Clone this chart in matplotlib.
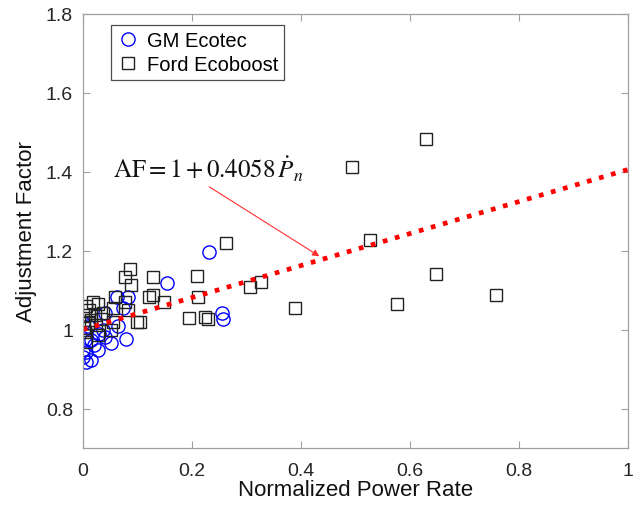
import numpy as np
import matplotlib
matplotlib.use("Agg")
from matplotlib import pyplot as plt

# GM Ecotec (circles)
gm_x = [0.231, 0.255, 0.257, 0.154, 0.083, 0.062, 0.073, 0.040, 0.079, 0.051,
        0.064, 0.037, 0.028, 0.015, 0.004, 0.006, 0.000, 0.006, 0.000, 0.015,
        0.040, 0.009, 0.020, 0.000, 0.030]
gm_y = [1.196, 1.043, 1.026, 1.117, 1.082, 1.084, 1.056, 1.043, 0.977, 0.967,
        1.008, 1.000, 0.949, 0.975, 0.974, 0.944, 0.931, 0.918, 0.949, 0.923,
        0.982, 1.008, 0.960, 1.018, 0.990]

# Ford Ecoboost (squares)
ford_x = [0.629, 0.494, 0.527, 0.262, 0.209, 0.211, 0.306, 0.327, 0.389, 0.576,
          0.648, 0.758, 0.195, 0.224, 0.229, 0.086, 0.077, 0.088, 0.128, 0.128,
          0.121, 0.149, 0.099, 0.077, 0.059, 0.055, 0.083, 0.018, 0.006, 0.028,
          0.004, 0.022, 0.037, 0.009, 0.024, 0.051, 0.004, 0.028, 0.006, 0.055,
          0.012, 0.015, 0.033, 0.003, 0.105]
ford_y = [1.482, 1.411, 1.227, 1.219, 1.135, 1.082, 1.107, 1.120, 1.054, 1.064,
          1.140, 1.089, 1.030, 1.033, 1.026, 1.153, 1.133, 1.112, 1.133, 1.089,
          1.082, 1.069, 1.020, 1.069, 1.082, 1.056, 1.051, 1.071, 1.059, 1.064,
          1.038, 1.038, 1.043, 1.018, 1.013, 1.000, 0.995, 0.987, 0.969, 1.020,
          1.050, 1.025, 1.028, 1.005, 1.020]

# fit AF = 1 + 0.4058 * Pn
slope = 0.4058
fit_x = np.array([0.0, 1.0])

plt.rcParams['font.family'] = ['Liberation Sans', 'DejaVu Sans']
plt.rcParams['mathtext.fontset'] = 'stix'

fig = plt.figure(figsize=(6.41, 5.06), dpi=100)
ax = fig.add_axes([0.129, 0.1126, 0.851, 0.8578])

ax.plot(gm_x, gm_y, 'o', mfc='none', mec='#0000ff', mew=1.0, ms=9.5, label='GM Ecotec')
ax.plot(ford_x, ford_y, 's', mfc='none', mec='#222222', mew=1.0, ms=8, label='Ford Ecoboost')
ax.plot(fit_x, 1 + slope * fit_x, ':', color='#ff0000', lw=3.4)

ax.annotate(r'$\mathrm{AF} = 1 + 0.4058\,\dot{P}_n$', xy=(0.434, 1.186), xytext=(0.055, 1.41),
            fontsize=18, va='center', ha='left', color='#111111',
            arrowprops=dict(arrowstyle='-|>', color='#ff3030', lw=0.8, mutation_scale=10,
                            shrinkA=2, shrinkB=0, relpos=(0.47, 0.0)))

ax.set_xlim(0, 1)
ax.set_ylim(0.7, 1.8)
ax.set_xticks([0, 0.2, 0.4, 0.6, 0.8, 1])
ax.set_xticklabels(['0', '0.2', '0.4', '0.6', '0.8', '1'])
ax.set_yticks([0.8, 1, 1.2, 1.4, 1.6, 1.8])
ax.set_yticklabels(['0.8', '1', '1.2', '1.4', '1.6', '1.8'])
ax.tick_params(direction='in', top=True, right=True, length=5, width=0.8,
               color='#a0a0a0', labelsize=14, labelcolor='#262626')
ax.tick_params(axis='y', pad=7)
ax.tick_params(axis='x', pad=10)
for s in ax.spines.values():
    s.set_color('#a0a0a0')
    s.set_linewidth(0.9)

ax.set_xlabel('Normalized Power Rate', fontsize=16, color='#111111', labelpad=0)
ax.set_ylabel('Adjustment Factor', fontsize=16, color='#111111', labelpad=6)

leg = ax.legend(loc='upper left', bbox_to_anchor=(0.051, 0.975), fontsize=14.5, frameon=True,
                fancybox=False, edgecolor='#222222', handletextpad=0.4, borderpad=0.3,
                labelspacing=0.25, handlelength=1.1, borderaxespad=0)
leg.get_frame().set_linewidth(0.9)

fig.savefig('out.png', dpi=100)
